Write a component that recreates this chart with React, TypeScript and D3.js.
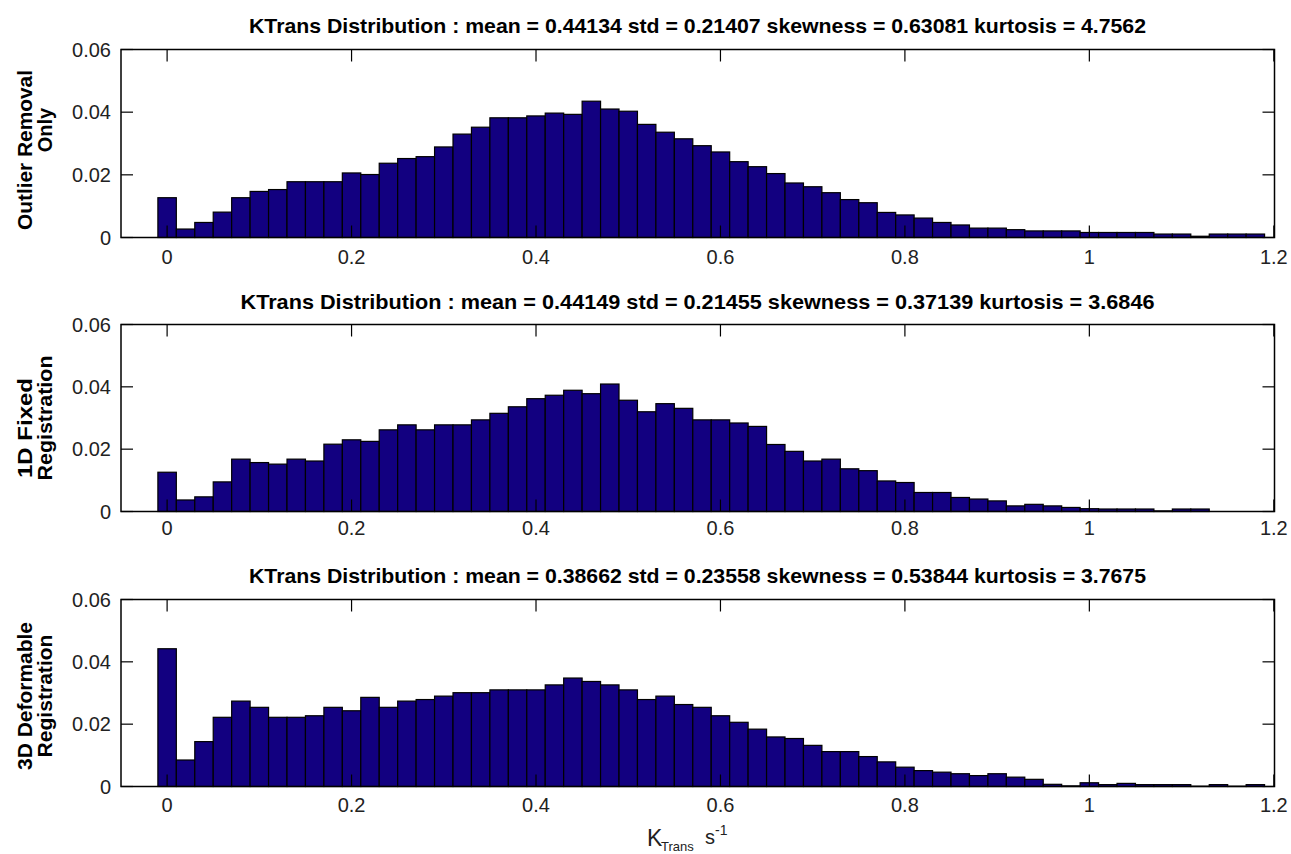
import React from "react";
import * as d3 from "d3";

// ---- Data (bin heights) ----
const binWidth = 0.02;
const binStart = 0;

const outlierRemoval = [
  0.0127, 0.0027, 0.0048, 0.0081, 0.0127, 0.0147, 0.0153, 0.0178, 0.0178, 0.0178,
  0.0206, 0.0201, 0.0237, 0.0252, 0.0258, 0.0289, 0.0330, 0.0352, 0.0382, 0.0382,
  0.0388, 0.0397, 0.0393, 0.0435, 0.0410, 0.0403, 0.0361, 0.0336, 0.0315, 0.0293,
  0.0273, 0.0242, 0.0226, 0.0204, 0.0174, 0.0162, 0.0143, 0.0121, 0.0111, 0.0080,
  0.0072, 0.0062, 0.0048, 0.0040, 0.0030, 0.0030, 0.0025, 0.0021, 0.0021, 0.0021,
  0.0016, 0.0016, 0.0016, 0.0016, 0.0011, 0.0011, 0.0004, 0.0011, 0.0011, 0.0011,
];

const fixed1D = [
  0.0126, 0.0037, 0.0047, 0.0095, 0.0168, 0.0157, 0.0152, 0.0168, 0.0162, 0.0216,
  0.0230, 0.0225, 0.0262, 0.0278, 0.0262, 0.0278, 0.0278, 0.0294, 0.0315, 0.0336,
  0.0362, 0.0373, 0.0389, 0.0378, 0.0409, 0.0357, 0.0320, 0.0346, 0.0331, 0.0294,
  0.0294, 0.0284, 0.0273, 0.0215, 0.0193, 0.0162, 0.0168, 0.0137, 0.0131, 0.0098,
  0.0093, 0.0061, 0.0061, 0.0045, 0.0040, 0.0034, 0.0018, 0.0023, 0.0018, 0.0013,
  0.0009, 0.0008, 0.0008, 0.0008, 0.0002, 0.0008, 0.0008, 0.0, 0.0, 0.0,
];

const deformable3D = [
  0.0442, 0.0085, 0.0144, 0.0222, 0.0274, 0.0254, 0.0222, 0.0222, 0.0227, 0.0254,
  0.0243, 0.0286, 0.0254, 0.0274, 0.0279, 0.0290, 0.0301, 0.0301, 0.0310, 0.0310,
  0.0310, 0.0326, 0.0348, 0.0337, 0.0326, 0.0310, 0.0279, 0.0290, 0.0263, 0.0254,
  0.0227, 0.0206, 0.0184, 0.0159, 0.0154, 0.0132, 0.0112, 0.0112, 0.0096, 0.0079,
  0.0062, 0.0051, 0.0046, 0.0041, 0.0035, 0.0041, 0.0030, 0.0023, 0.0007, 0.0002,
  0.0012, 0.0006, 0.0010, 0.0006, 0.0006, 0.0006, 0.0001, 0.0006, 0.0001, 0.0006,
];

const titles = [
  "KTrans Distribution : mean = 0.44134 std = 0.21407 skewness = 0.63081 kurtosis = 4.7562",
  "KTrans Distribution : mean = 0.44149 std = 0.21455 skewness = 0.37139 kurtosis = 3.6846",
  "KTrans Distribution : mean = 0.38662 std = 0.23558 skewness = 0.53844 kurtosis = 3.7675",
];

const yLabels = [
  ["Outlier Removal", "Only"],
  ["1D Fixed", "Registration"],
  ["3D Deformable", "Registration"],
];

const xTicks = [0, 0.2, 0.4, 0.6, 0.8, 1, 1.2];
const yTicks = [0, 0.02, 0.04, 0.06];

const series = [outlierRemoval, fixed1D, deformable3D];

// ---- Layout ----
const W = 1291;
const H = 854;
const panels = [
  { top: 49.5, bottom: 237.5, titleLen: 897, titleY: 33, tickY: 263.5, yl: [[150, 160], [130, 0]] },
  { top: 324.5, bottom: 511.5, titleLen: 914, titleY: 309, tickY: 535, yl: [[428, 100], [418, 125]] },
  { top: 599.5, bottom: 786.5, titleLen: 897, titleY: 583, tickY: 811.5, yl: [[696, 148], [696, 123]] },
];
const left = 121;
const right = 1274.5;
const tickLen = 12;
const barFill = "#120080";
const narrow = "'Liberation Sans Narrow', 'Arial Narrow', 'Liberation Sans', Arial, sans-serif";
const sans = "'Liberation Sans', Arial, sans-serif";

const x = d3.scaleLinear().domain([-0.05, 1.2]).range([left, 1273.8]);

function Panel({ idx }: { idx: number }) {
  const p = panels[idx];
  const data = series[idx];
  const y = d3.scaleLinear().domain([0, 0.06]).range([p.bottom, p.top]);
  const fmt = (v: number) => (v === 0 ? "0" : d3.format("~g")(+v.toFixed(2)));
  return (
    <g>
      <text
        x={(248 + 1147) / 2}
        y={p.titleY}
        textAnchor="middle"
        fontFamily={narrow}
        fontWeight="bold"
        fontSize={21}
        textLength={p.titleLen}
        lengthAdjust="spacingAndGlyphs"
        fill="#000"
      >
        {titles[idx]}
      </text>
      {data.map((v, i) => {
        const c = binStart + i * binWidth;
        const x0 = x(c - binWidth / 2);
        const x1 = x(c + binWidth / 2);
        const yTop = y(v);
        return (
          <rect
            key={i}
            x={x0}
            y={yTop}
            width={x1 - x0}
            height={Math.max(0, p.bottom - yTop)}
            fill={barFill}
            stroke="#000"
            strokeWidth={1.2}
          />
        );
      })}
      <rect x={left} y={p.top} width={right - left} height={p.bottom - p.top} fill="none" stroke="#000" strokeWidth={1.5} />
      {xTicks.map((t) => (
        <g key={"xt" + t}>
          <line x1={x(t)} x2={x(t)} y1={p.bottom} y2={p.bottom - tickLen} stroke="#000" strokeWidth={1.2} />
          <line x1={x(t)} x2={x(t)} y1={p.top} y2={p.top + tickLen} stroke="#000" strokeWidth={1.2} />
          <text x={x(t)} y={p.tickY} textAnchor="middle" fontFamily={sans} fontSize={20} fill="#222">
            {fmt(t)}
          </text>
        </g>
      ))}
      {yTicks.map((t) => (
        <g key={"yt" + t}>
          <line x1={left} x2={left + tickLen} y1={y(t)} y2={y(t)} stroke="#000" strokeWidth={1.2} />
          <line x1={right} x2={right - tickLen} y1={y(t)} y2={y(t)} stroke="#000" strokeWidth={1.2} />
          <text x={111} y={y(t) + 7} textAnchor="end" fontFamily={sans} fontSize={20} fill="#222">
            {fmt(t)}
          </text>
        </g>
      ))}
      {yLabels[idx].map((s, k) => (
        <text
          key={k}
          transform={`translate(${k === 0 ? 32 : 52},${p.yl[k][0]}) rotate(-90)`}
          textAnchor="middle"
          fontFamily={narrow}
          fontWeight="bold"
          fontSize={20}
          textLength={p.yl[k][1] > 0 ? p.yl[k][1] : undefined}
          lengthAdjust={p.yl[k][1] > 0 ? "spacingAndGlyphs" : undefined}
          fill="#000"
        >
          {s}
        </text>
      ))}
    </g>
  );
}

export default function App() {
  return (
    <svg
      width={W}
      height={H}
      style={{ position: "absolute", left: 0, top: 0, background: "#fff" }}
    >
      <rect x={0} y={0} width={W} height={H} fill="#fff" />
      {panels.map((_, i) => (
        <Panel key={i} idx={i} />
      ))}
      <text fontFamily={sans} fill="#222">
        <tspan x={647} y={846} fontSize={23}>K</tspan>
        <tspan x={661} y={851} fontSize={13}>Trans</tspan>
        <tspan x={705} y={844} fontSize={20}>s</tspan>
        <tspan x={715} y={835} fontSize={14}>-1</tspan>
      </text>
    </svg>
  );
}
